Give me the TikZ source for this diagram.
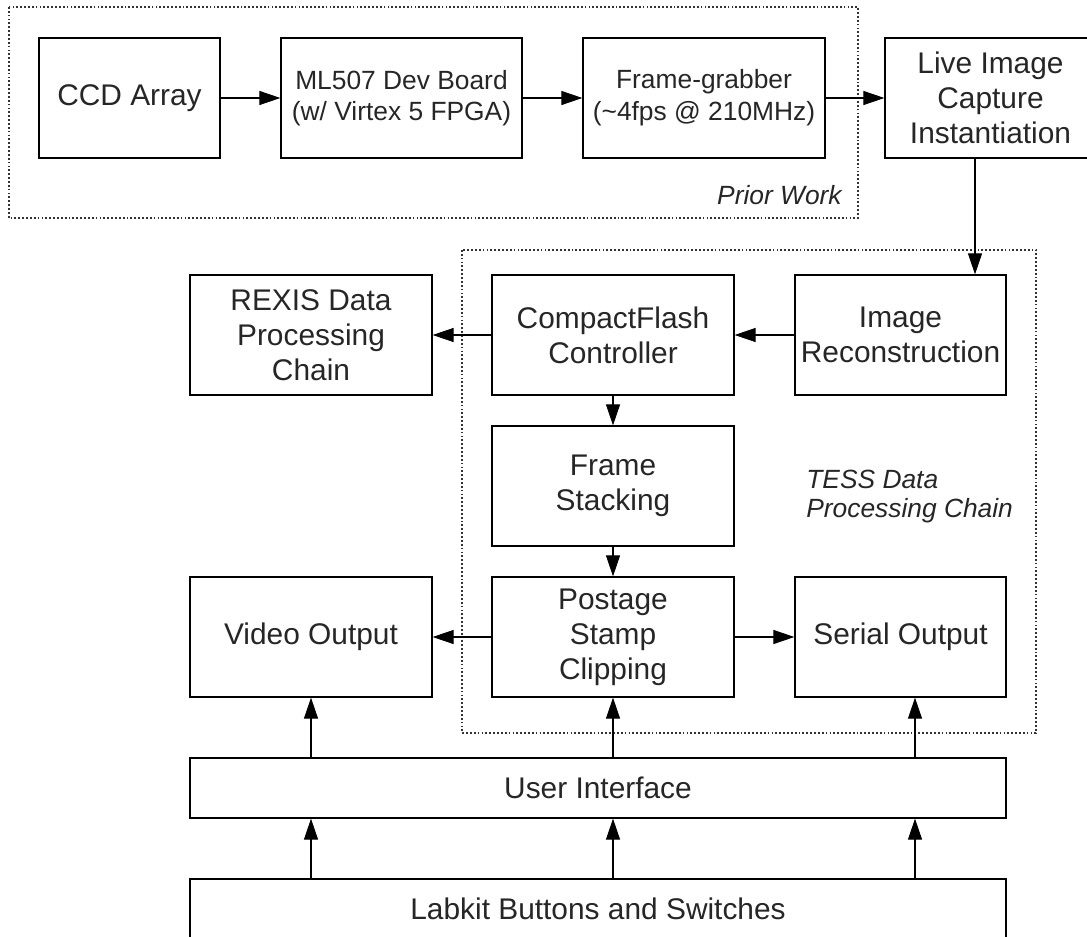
\documentclass[tikz,border=0pt]{standalone}
\usepackage{fontspec}
\setmainfont{Liberation Sans}
\usetikzlibrary{arrows.meta}

\begin{document}
\begin{tikzpicture}[
  block/.style={rectangle, draw, line width=0.7pt, inner sep=2pt, minimum width=4.84cm, minimum height=2.4cm, align=center, text=black!85, font=\fontsize{17}{20}\selectfont},
  smallblock/.style={block, font=\fontsize{15}{18}\selectfont},
  bar/.style={block, minimum width=16.32cm, minimum height=1.2cm},
  group/.style={draw, line width=0.6pt, dash pattern=on 1pt off 1.2pt, black!80},
  grouplabel/.style={font=\fontsize{15}{16.5}\selectfont\itshape, text=black!85, align=left, inner sep=0pt},
  arrow/.style={-{Triangle[length=12pt, width=8pt]}, line width=0.6pt}
]
\useasboundingbox (0,0) rectangle (21.74,-18.74);

% Prior work group
\draw[group] (0.18,-0.14) rectangle (17.16,-4.36);
\node[grouplabel, anchor=base east] (priorlabel) at (16.84,-4.10) {Prior Work};

% TESS group
\draw[group] (9.24,-5.00) rectangle (20.72,-14.66);
\node[grouplabel, anchor=west] (tesslabel) at (16.12,-9.93) {TESS Data\\Processing Chain};

% Top row
\node[block, minimum width=3.62cm] (ccd) at (2.59,-1.96) {CCD Array};
\node[smallblock, minimum width=4.82cm] (ml507) at (8.03,-1.96) {ML507 Dev Board\\(w/ Virtex 5 FPGA)};
\node[smallblock] (grabber) at (14.08,-1.96) {Frame-grabber\\(\textasciitilde4fps @ 210MHz)};
\node[block, minimum width=4.22cm] (live) at (19.81,-1.96) {Live Image\\Capture\\Instantiation};

% Processing chain
\node[block] (rexis) at (6.22,-6.70) {REXIS Data\\Processing\\Chain};
\node[block] (cf) at (12.26,-6.70) {CompactFlash\\Controller};
\node[block, minimum width=4.22cm] (recon) at (18.01,-6.70) {Image\\Reconstruction};
\node[block] (stack) at (12.26,-9.72) {Frame\\Stacking};
\node[block] (video) at (6.22,-12.74) {Video Output};
\node[block] (stamp) at (12.26,-12.74) {Postage\\Stamp\\Clipping};
\node[block, minimum width=4.22cm] (serial) at (18.01,-12.74) {Serial Output};

% Interface bars
\node[bar] (ui) at (11.96,-15.76) {User Interface};
\node[bar] (labkit) at (11.96,-18.18) {Labkit Buttons and Switches};

% Arrows
\draw[arrow] (ccd.east) -- (ml507.west);
\draw[arrow] (ml507.east) -- (grabber.west);
\draw[arrow] (grabber.east) -- (live.west);
\draw[arrow] ([xshift=-0.31cm]live.south) -- ([xshift=-0.31cm]live.south |- recon.north);
\draw[arrow] (recon.west) -- (cf.east);
\draw[arrow] (cf.west) -- (rexis.east);
\draw[arrow] (cf.south) -- (stack.north);
\draw[arrow] (stack.south) -- (stamp.north);
\draw[arrow] (stamp.west) -- (video.east);
\draw[arrow] (stamp.east) -- (serial.west);

\draw[arrow] (ui.north -| video.south) -- (video.south);
\draw[arrow] (ui.north -| stamp.south) -- (stamp.south);
\draw[arrow] ([xshift=0.29cm]ui.north -| serial.south) -- ([xshift=0.29cm]serial.south);

\draw[arrow] (labkit.north -| video.south) -- (ui.south -| video.south);
\draw[arrow] (labkit.north -| stamp.south) -- (ui.south -| stamp.south);
\draw[arrow] ([xshift=0.29cm]labkit.north -| serial.south) -- ([xshift=0.29cm]ui.south -| serial.south);

\end{tikzpicture}
\end{document}
